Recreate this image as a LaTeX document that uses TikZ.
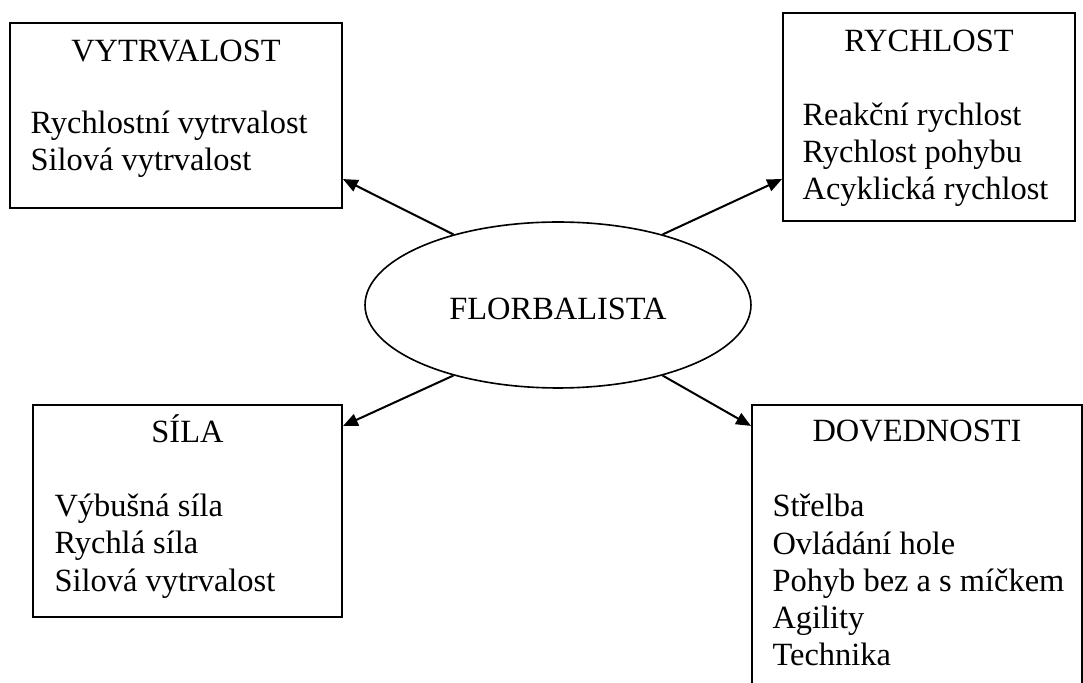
\documentclass[tikz,border=0pt]{standalone}
\usepackage{fontspec}
\setmainfont{Liberation Serif}
\usetikzlibrary{positioning}
\usetikzlibrary{calc}
\usetikzlibrary{arrows.meta}
\usetikzlibrary{shapes.geometric}
\tikzset{box/.style = {draw, line width=0.75pt, inner sep=0}}
\tikzset{head/.style = {anchor=base, inner sep=0}}
\tikzset{items/.style = {anchor=base west, align=left, inner sep=0}}
\tikzset{link/.style = {line width=0.75pt, -{Triangle[length=5.5pt,width=4.6pt]}}}

\begin{document}
\begin{tikzpicture}[x=0.37pt, y=-0.37pt, font=\fontsize{12}{13.8}\selectfont]
      \clip (0,0) rectangle (1083,683);

      % boxes
      \node[box, minimum width=122.8pt, minimum height=68.5pt] (vyt) at (176,115.5) {};
      \node[box, minimum width=108pt, minimum height=77pt] (ryc) at (929,117) {};
      \node[box, minimum width=114.3pt, minimum height=78.4pt] (sil) at (187.5,511) {};
      \node[box, minimum width=122.1pt, minimum height=131.4pt] (dov) at (917,582.5) {};

      \node[draw, ellipse, line width=0.6pt, inner sep=0, text height=11pt, text depth=0pt,
            minimum width=142.8pt, minimum height=61.4pt] (flo) at (558,305) {FLORBALISTA};

      % titles
      \node[head] (vytt) at ($(vyt.north)+(0,40)$) {VYTRVALOST};
      \node[head] (ryct) at ($(ryc.north)+(0,40)$) {RYCHLOST};
      \node[head] (silt) at ($(sil.north)+(0,38)$) {SÍLA};
      \node[head] (dovt) at ($(dov.north)+(0,38)$) {DOVEDNOSTI};

      % lists (base = last line)
      \node[items] (vyti) at ($(vyt.north west)+(21,149)$)
        {Rychlostní vytrvalost\\Silová vytrvalost};
      \node[items] (ryci) at ($(ryc.north west)+(20,188)$)
        {Reakční rychlost\\Rychlost pohybu\\Acyklická rychlost};
      \node[items] (sili) at ($(sil.north west)+(22,187)$)
        {Výbušná síla\\Rychlá síla\\Silová vytrvalost};
      \node[items] (dovi) at ($(dov.north west)+(21,262)$)
        {Střelba\\Ovládání hole\\Pohyb bez a s míčkem\\Agility\\Technika};

      % arrows
      \draw[link] (flo.146) -- ($(vyt.south east)+(0,-30)$);
      \draw[link] (flo.34) -- ($(ryc.south west)+(0,-43)$);
      \draw[link] (flo.214) -- ($(sil.north east)+(0,22)$);
      \draw[link] (flo.326) -- ($(dov.north west)+(0,22)$);
    \end{tikzpicture}
\end{document}
